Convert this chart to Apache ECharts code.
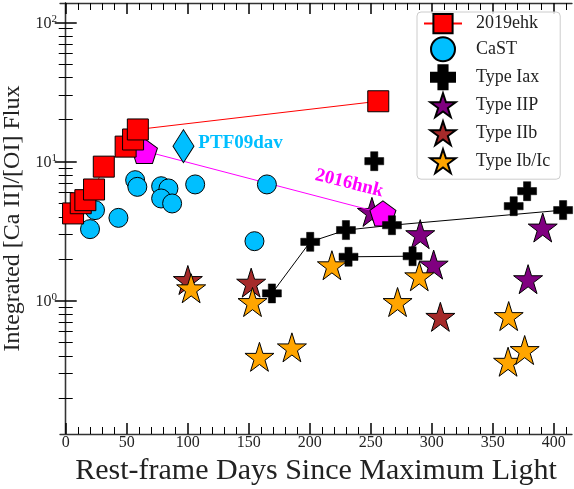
<!DOCTYPE html>
<html><head><meta charset="utf-8">
<script src="https://cdn.jsdelivr.net/npm/echarts@6/dist/echarts.min.js"></script>
<style>html,body{margin:0;padding:0;background:#fff}#c{width:574px;height:489px}</style>
</head><body><div id="c"></div>
<script>
// ---- data ----
const ehk2019 = [[6.0,4.24],[12.3,5.02],[16.1,5.28],[23.2,6.30],[31.2,9.19],[49.1,12.8],[55.2,14.4],[59.1,17.0],[256.2,27.1]];
const castPts = [[24.0,4.48],[19.9,3.27],[43.2,3.94],[56.9,7.35],[58.7,6.58],[78.2,6.65],[84.2,6.41],[78.2,5.43],[87.2,5.0],[106.1,6.85],[164.9,6.85],[154.7,2.68]];
const ptf09dav = [[96.5,12.9]];
const hnk2016 = [[64.5,11.9],[260.0,4.24]];
const iaxLineA = [[169.0,1.13],[200.4,2.65],[229.7,3.22],[267.4,3.49],[407.7,4.48]];
const iaxLineB = [[231.8,2.07],[284.3,2.09]];
const iaxSingle = [[252.9,10.06],[367.2,4.78],[378.2,6.13]];
const typeIIP = [[251.0,4.35],[290.6,3.01],[301.6,1.82],[391.0,3.36],[379.0,1.43]];
const typeIIb = [[100.1,1.41],[152.0,1.35],[307.1,0.767]];
const typeIbc = [[102.8,1.23],[153.1,0.98],[158.8,0.396],[185.4,0.463],[218.2,1.80],[272.0,0.98],[289.8,1.50],[363.1,0.777],[362.6,0.365],[376.2,0.443]];
const xMajor = [0,50,100,150,200,250,300,350,400];
const xMinor = [10,20,30,40,60,70,80,90,110,120,130,140,160,170,180,190,210,220,230,240,260,270,280,290,310,320,330,340,360,370,380,390,410];
const yMajor = [1,10,100];
const yMinor = [0.2,0.3,0.4,0.5,0.6,0.7,0.8,0.9,2,3,4,5,6,7,8,9,20,30,40,50,60,70,80,90];
const legendNames = ['2019ehk','CaST','Type Iax','Type IIP','Type IIb','Type Ib/Ic'];

// ---- symbols ----
function polyPath(n, inner) {
  const pts = [];
  const k = inner ? n * 2 : n;
  for (let i = 0; i < k; i++) {
    const r = inner ? (i % 2 ? inner : 1) : 1;
    const a = -Math.PI / 2 + i * 2 * Math.PI / k;
    pts.push((r * Math.cos(a)).toFixed(4) + ',' + (r * Math.sin(a)).toFixed(4));
  }
  return 'path://M' + pts.join('L') + 'Z';
}
const STAR = polyPath(5, 0.382);
const PENT = polyPath(5, 0);
const PLUS = 'path://M-0.19,-0.5H0.19V-0.19H0.5V0.19H0.19V0.5H-0.19V0.19H-0.5V-0.19H-0.19Z';

const SERIF = 'Liberation Serif';
const TXT = '#222';
const XMIN = -4.7, XMAX = 415, YMIN = 0.1105, YMAX = 137.6;

function xAx(pos, vals, len, lw, line, labels) {
  return {
    type: 'value', position: pos, min: XMIN, max: XMAX,
    splitLine: {show: false},
    axisLine: {show: line, lineStyle: {color: '#333', width: 1.3}},
    axisTick: {show: true, inside: true, length: len, customValues: vals, lineStyle: {color: '#000', width: lw}},
    axisLabel: labels ? {show: true, customValues: vals, margin: 1, fontFamily: SERIF, fontSize: 16, color: TXT} : {show: false}
  };
}
function yAx(pos, vals, len, lw, line, labels) {
  return {
    type: 'log', logBase: 10, position: pos, min: YMIN, max: YMAX,
    splitLine: {show: false}, minorTick: {show: false},
    axisLine: {show: line, lineStyle: {color: '#333', width: 1.3}},
    axisTick: {show: true, inside: true, length: len, customValues: vals, lineStyle: {color: '#000', width: lw}},
    axisLabel: labels ? {
      show: true, customValues: vals, margin: 3,
      formatter: v => '{b|10}{s|' + Math.round(Math.log10(v)) + '}',
      rich: {
        b: {fontFamily: SERIF, fontSize: 16, color: TXT, lineHeight: 18, verticalAlign: 'bottom'},
        s: {fontFamily: SERIF, fontSize: 11, color: TXT, lineHeight: 11, verticalAlign: 'top'}
      }
    } : {show: false}
  };
}

function sty(color) { return {color: color, borderColor: '#000', borderWidth: 1, opacity: 1}; }
const option = {
  animation: false,
  backgroundColor: '#fff',
  grid: {left: 60, right: 2, top: 3, bottom: 55, containLabel: false, outerBoundsMode: 'none'},
  xAxis: [
    Object.assign(xAx('bottom', xMajor, 11, 1.5, true, true), {
      name: 'Rest-frame Days Since Maximum Light', nameLocation: 'middle', nameGap: 20,
      nameTextStyle: {fontFamily: SERIF, fontSize: 30, color: TXT}
    }),
    xAx('bottom', xMinor, 7, 1, false, false),
    xAx('top', xMajor, 11, 1.5, true, false),
    xAx('top', xMinor, 7, 1, false, false)
  ],
  yAxis: [
    Object.assign(yAx('left', yMajor, 11, 1.5, true, true), {
      name: 'Integrated [Ca II]/[OI] Flux', nameLocation: 'middle', nameGap: 31,
      nameTextStyle: {fontFamily: SERIF, fontSize: 24, color: TXT}
    }),
    yAx('left', yMinor, 7, 1, false, false),
    yAx('right', yMajor, 11, 1.5, true, false),
    yAx('right', yMinor, 7, 1, false, false)
  ],
  legend: {
    orient: 'vertical', left: 417, top: 12, padding: [1, 10, 5, 6],
    itemWidth: 38, itemHeight: 24, itemGap: 2,
    backgroundColor: 'rgba(255,255,255,0.85)', borderColor: '#ccc', borderWidth: 1, borderRadius: 4,
    textStyle: {fontFamily: SERIF, fontSize: 18, color: TXT, padding: [0, 0, 0, 9]},
    data: legendNames
  },
  series: [
    {name: '_iaxA', type: 'line', data: iaxLineA, symbol: 'none', z: 3, silent: true,
     lineStyle: {color: '#000', width: 1}},
    {name: '_iaxB', type: 'line', data: iaxLineB, symbol: 'none', z: 3, silent: true,
     lineStyle: {color: '#000', width: 1}},
    {name: 'Type IIP', type: 'scatter', data: typeIIP, symbol: STAR, symbolSize: 29, z: 2,
     itemStyle: sty('#800080')},
    {name: 'Type IIb', type: 'scatter', data: typeIIb, symbol: STAR, symbolSize: 29, z: 2,
     itemStyle: sty('#a52a2a')},
    {name: 'Type Ib/Ic', type: 'scatter', data: typeIbc, symbol: STAR, symbolSize: 29, z: 3,
     itemStyle: sty('#ffa500')},
    {name: '2016hnk', type: 'line', z: 4, symbol: PENT, symbolSize: [26, 25],
     lineStyle: {color: '#ff00ff', width: 1},
     itemStyle: sty('#ff00ff'),
     data: hnk2016.map((p, i) => i === 1 ? {value: p, label: {
       show: true, position: 'inside', offset: [-40, -21], rotate: -14, formatter: '2016hnk',
       fontFamily: SERIF, fontWeight: 'bold', fontSize: 19, color: '#ff00ff'}} : p)},
    {name: 'CaST', type: 'scatter', data: castPts, symbol: 'circle', symbolSize: 19, z: 5,
     itemStyle: sty('#00bfff')},
    {name: 'PTF09dav', type: 'scatter', data: ptf09dav, symbol: 'diamond', symbolSize: [21, 33], z: 5,
     itemStyle: sty('#00bfff'),
     label: {show: true, position: 'right', distance: 4, offset: [0, -3], formatter: 'PTF09dav',
       fontFamily: SERIF, fontWeight: 'bold', fontSize: 19, color: '#00bfff'}},
    {name: 'Type Iax', type: 'scatter', data: iaxLineA.concat(iaxLineB, iaxSingle), symbol: PLUS, symbolSize: 19, z: 6,
     itemStyle: {color: '#000', borderColor: '#000', borderWidth: 0.5, opacity: 1}},
    {name: '2019ehk', type: 'line', data: ehk2019, symbol: 'rect', symbolSize: 21, z: 7,
     lineStyle: {color: '#ff0000', width: 1},
     itemStyle: sty('#ff0000')}
  ]
};
const chart = echarts.init(document.getElementById('c'), null, {renderer: 'canvas'});
chart.setOption(option);
</script></body></html>
